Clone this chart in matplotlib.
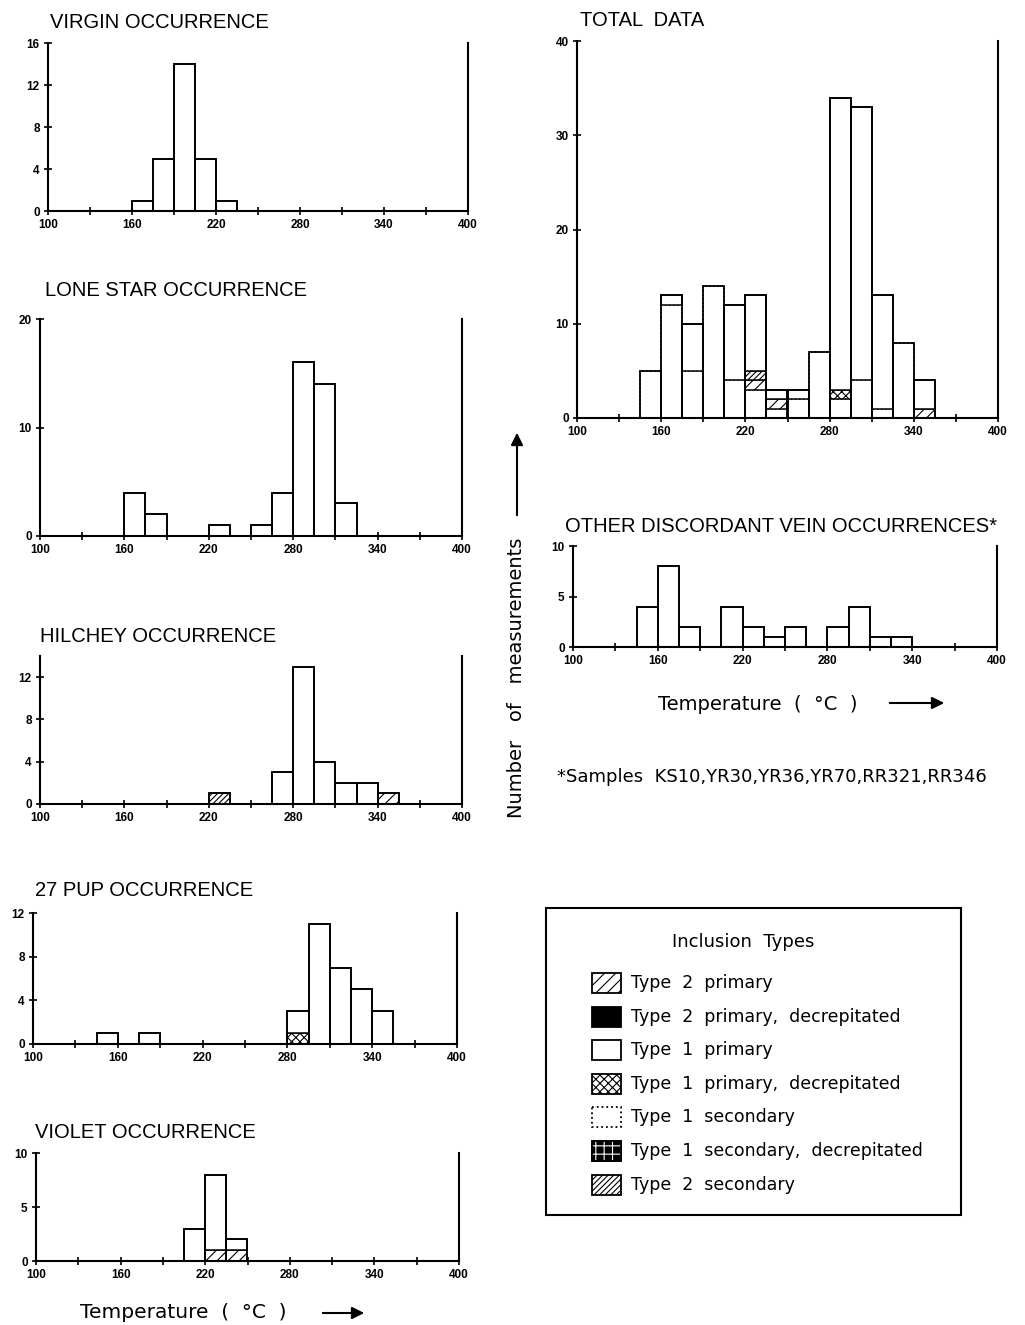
import numpy as np
import matplotlib.pyplot as plt
from matplotlib.patches import Rectangle

# 15 degree bins, left edges
bin_left = [145, 160, 175, 190, 205, 220, 235, 250, 265, 280, 295, 310, 325, 340]
bin_width = 15

virgin_t1 = [0, 1, 5, 14, 5, 1, 0, 0, 0, 0, 0, 0, 0, 0]

lone_t1 = [0, 4, 2, 0, 0, 1, 0, 1, 4, 16, 14, 3, 0, 0]

hilchey_t2s = [0, 0, 0, 0, 0, 1, 0, 0, 0, 0, 0, 0, 0, 0]
hilchey_t2p = [0, 0, 0, 0, 0, 0, 0, 0, 0, 0, 0, 0, 0, 1]
hilchey_t1 = [0, 0, 0, 0, 0, 0, 0, 0, 3, 13, 4, 2, 2, 0]

pup_t1pd = [0, 0, 0, 0, 0, 0, 0, 0, 0, 1, 0, 0, 0, 0]
pup_t1 = [1, 0, 1, 0, 0, 0, 0, 0, 0, 2, 11, 7, 5, 3]

violet_t2p = [0, 0, 0, 0, 0, 1, 1, 0, 0, 0, 0, 0, 0, 0]
violet_t1 = [0, 0, 0, 0, 3, 7, 1, 0, 0, 0, 0, 0, 0, 0]

other_t1 = [4, 8, 2, 0, 4, 2, 1, 2, 0, 2, 4, 1, 1, 0]

total_lower = [5, 12, 5, 14, 4, 3, 1, 2, 7, 2, 4, 1, 8, 0]
total_t2p = [0, 0, 0, 0, 0, 1, 1, 0, 0, 0, 0, 0, 0, 1]
total_t2s = [0, 0, 0, 0, 0, 1, 0, 0, 0, 0, 0, 0, 0, 0]
total_t1pd = [0, 0, 0, 0, 0, 0, 0, 0, 0, 1, 0, 0, 0, 0]
total_upper = [0, 1, 5, 0, 8, 8, 1, 1, 0, 31, 29, 12, 0, 3]

legend_labels = ["Type  2  primary", "Type  2  primary,  decrepitated",
                 "Type  1  primary", "Type  1  primary,  decrepitated",
                 "Type  1  secondary", "Type  1  secondary,  decrepitated",
                 "Type  2  secondary"]
legend_kinds = ["t2p", "t2pd", "t1p", "t1pd", "t1s", "t1sd", "t2s"]

STYLE = {
    "t2p": dict(facecolor="white", hatch="///"),
    "t2pd": dict(facecolor="black"),
    "t1p": dict(facecolor="white"),
    "t1pd": dict(facecolor="white", hatch="xxxx"),
    "t1s": dict(facecolor="white", linestyle=":"),
    "t1sd": dict(facecolor="black"),
    "t2s": dict(facecolor="white", hatch="//////"),
}

W, H = 1025, 1325
plt.rcParams["hatch.linewidth"] = 0.8
fig = plt.figure(figsize=(W / 100, H / 100), dpi=100)
fig.patch.set_facecolor("white")

TITLE_FONT = dict(family="Liberation Sans", fontsize=14.5)
LABEL_FONT = dict(family="DejaVu Sans")


def px_axes(x0, x1, ytop, ybot):
    return fig.add_axes([x0 / W, 1 - ybot / H, (x1 - x0) / W, (ybot - ytop) / H])


def draw_panel(ax, layers, ymax, yticks):
    left = np.array(bin_left)
    bottom = np.zeros(len(bin_left))
    for kind, counts in layers:
        counts = np.asarray(counts, float)
        m = counts > 0
        ax.bar(left[m], counts[m], width=bin_width, bottom=bottom[m], align="edge",
               edgecolor="black", linewidth=1.1, **STYLE[kind])
        bottom += counts
    m = bottom > 0
    ax.bar(left[m], bottom[m], width=bin_width, align="edge", fill=False,
           edgecolor="black", linewidth=1.3)
    ax.set_xlim(100, 400)
    ax.set_ylim(0, ymax)
    ax.set_xticks([100, 160, 220, 280, 340, 400])
    ax.set_xticks([130, 190, 250, 310, 370], minor=True)
    ax.set_yticks(yticks)
    ax.spines["top"].set_visible(False)
    for s in ("left", "right", "bottom"):
        ax.spines[s].set_linewidth(1.5)
    ax.tick_params(which="both", direction="inout", length=6, width=1.2, pad=3)
    for lab in ax.get_xticklabels() + ax.get_yticklabels():
        lab.set_fontfamily("Liberation Sans")
        lab.set_fontweight("bold")
        lab.set_fontsize(8.5)


panels = [
    ("VIRGIN OCCURRENCE", (48, 468, 43, 211), (50, 22), 16, [0, 4, 8, 12, 16],
     [("t1p", virgin_t1)]),
    ("LONE STAR OCCURRENCE", (40, 462, 319, 536), (45, 290), 20, [0, 10, 20],
     [("t1p", lone_t1)]),
    ("HILCHEY OCCURRENCE", (40, 462, 656, 804), (40, 636), 14, [0, 4, 8, 12],
     [("t2s", hilchey_t2s), ("t2p", hilchey_t2p), ("t1p", hilchey_t1)]),
    ("27 PUP OCCURRENCE", (33, 457, 913, 1044), (35, 891), 12, [0, 4, 8, 12],
     [("t1pd", pup_t1pd), ("t1p", pup_t1)]),
    ("VIOLET OCCURRENCE", (36, 459, 1153, 1261), (35, 1132), 10, [0, 5, 10],
     [("t2p", violet_t2p), ("t1p", violet_t1)]),
    ("TOTAL  DATA", (577, 998, 41, 418), (580, 20), 40, [0, 10, 20, 30, 40],
     [("t1s", total_lower), ("t2p", total_t2p), ("t2s", total_t2s),
      ("t1pd", total_t1pd), ("t1p", total_upper)]),
    ("OTHER DISCORDANT VEIN OCCURRENCES*", (573, 997, 546, 647), (565, 527), 10, [0, 5, 10],
     [("t1p", other_t1)]),
]

for title, box, tpos, ymax, yticks, layers in panels:
    ax = px_axes(*box)
    draw_panel(ax, layers, ymax, yticks)
    fig.text(tpos[0] / W, 1 - tpos[1] / H, title, ha="left", va="center", **TITLE_FONT)

# overlay for labels, arrows and legend
ov = fig.add_axes([0, 0, 1, 1])
ov.set_xlim(0, W)
ov.set_ylim(H, 0)
ov.axis("off")
ov.patch.set_alpha(0)

arrow = dict(arrowstyle="-|>", color="black", lw=1.5, mutation_scale=18)

ov.text(80, 1312, "Temperature  (  °C  )", ha="left", va="center", fontsize=14.5, **LABEL_FONT)
ov.annotate("", xy=(367, 1313), xytext=(320, 1313), arrowprops=arrow)

ov.text(658, 704, "Temperature  (  °C  )", ha="left", va="center", fontsize=14, **LABEL_FONT)
ov.annotate("", xy=(947, 703), xytext=(887, 703), arrowprops=arrow)

ov.text(517, 818, "Number   of   measurements", ha="center", va="bottom", rotation=90,
        fontsize=14, **LABEL_FONT)
ov.annotate("", xy=(517, 430), xytext=(517, 518), arrowprops=arrow)

ov.text(557, 777, "*Samples  KS10,YR30,YR36,YR70,RR321,RR346", ha="left", va="center",
        fontsize=13, **LABEL_FONT)

# legend box
ov.add_patch(Rectangle((546, 908), 415, 307, fill=False, lw=1.5, edgecolor="black"))
ov.text(743, 942, "Inclusion  Types", ha="center", va="center", fontsize=13, **LABEL_FONT)
for i, (lab, kind) in enumerate(zip(legend_labels, legend_kinds)):
    yc = 983 + i * 33.6
    ov.add_patch(Rectangle((592, yc - 10), 29, 20, edgecolor="black", lw=1.3, **STYLE[kind]))
    if kind == "t1sd":
        ov.add_patch(Rectangle((592, yc - 10), 29, 20, facecolor="none", edgecolor="white",
                               hatch="++", lw=0))
        ov.add_patch(Rectangle((592, yc - 10), 29, 20, fill=False, edgecolor="black", lw=1.3))
    ov.text(631, yc, lab, ha="left", va="center", fontsize=12.5, **LABEL_FONT)

fig.savefig("out.png", dpi=100, facecolor="white")
